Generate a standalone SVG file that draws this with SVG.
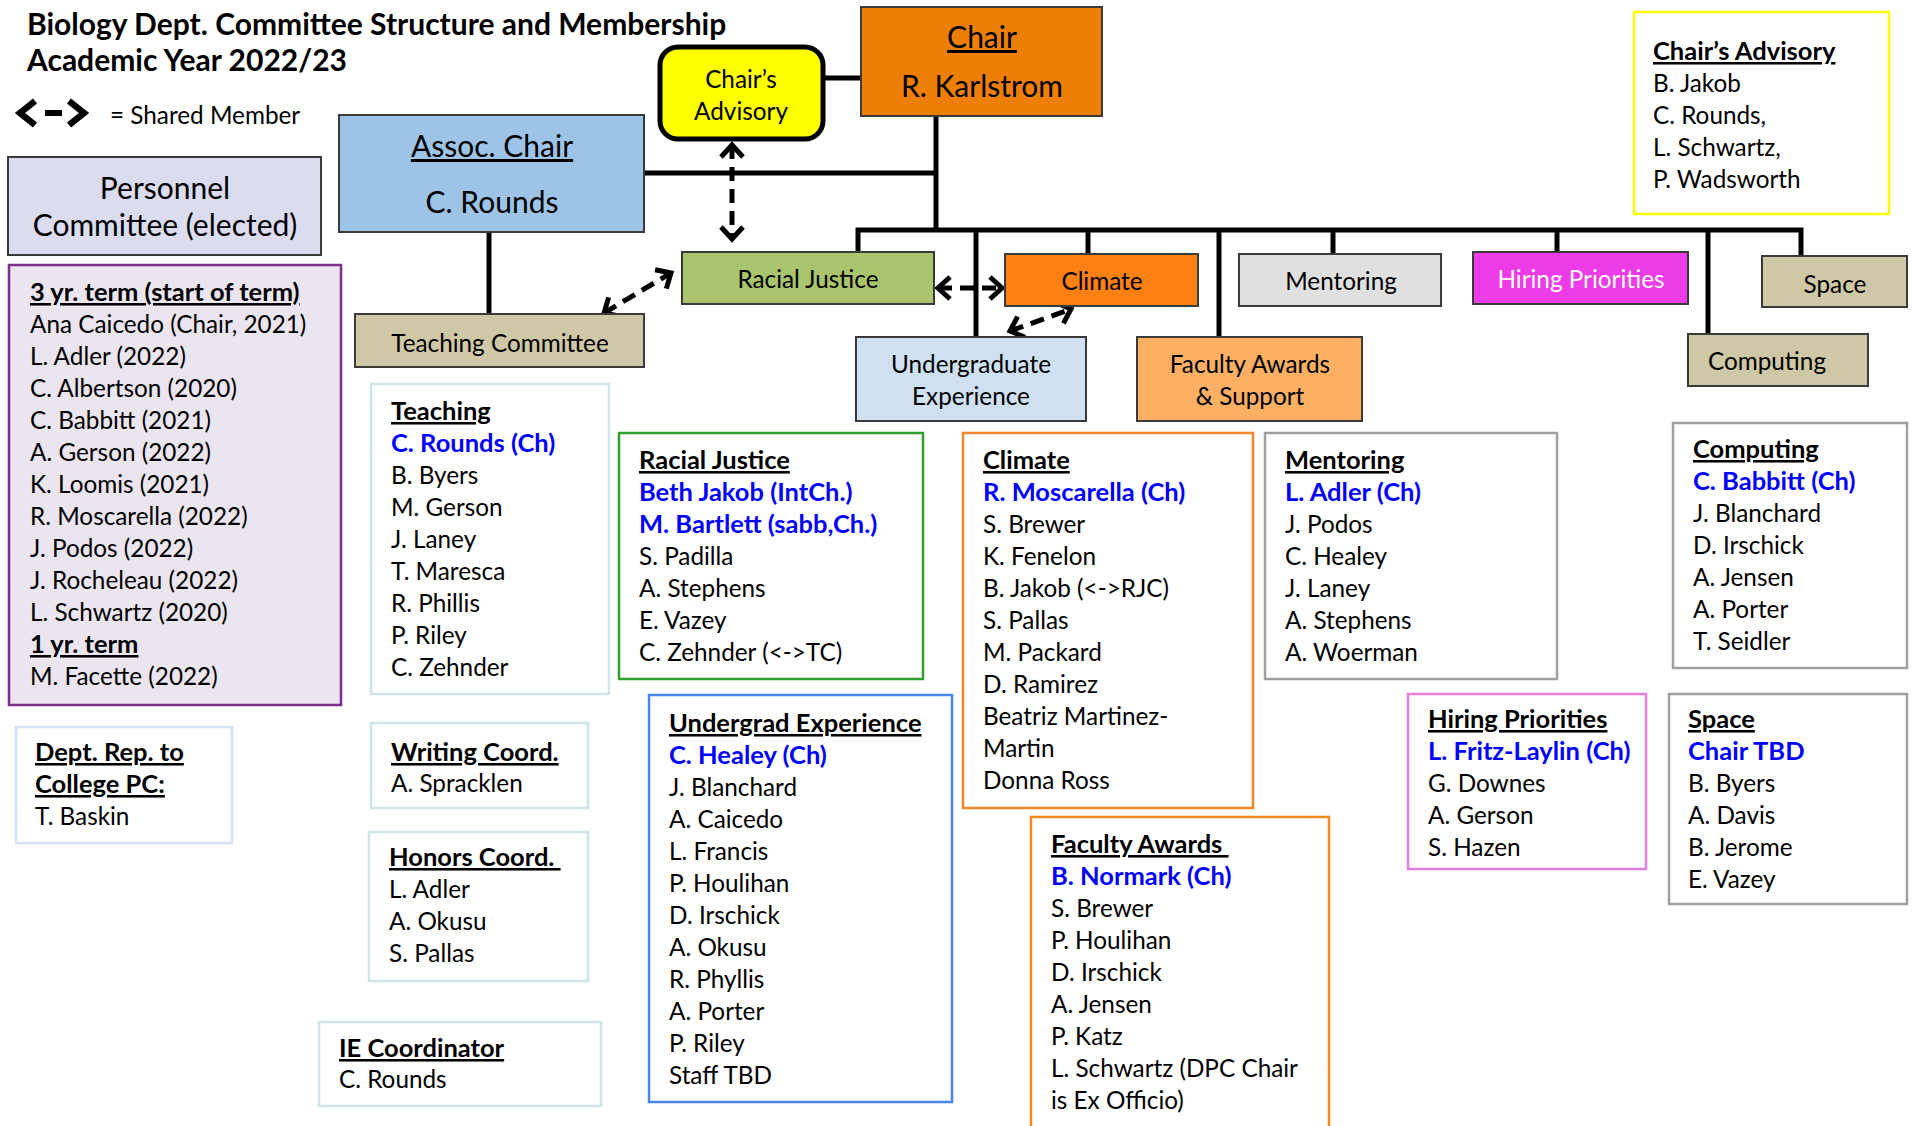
<svg xmlns="http://www.w3.org/2000/svg" width="1913" height="1126" viewBox="0 0 1913 1126">
<defs>
<style>
text{font-family:Lato,'Open Sans','Liberation Sans',sans-serif;font-size:24.3px;fill:#000}
.b{font-weight:bold;font-size:25.5px}
.u{text-decoration:underline}
.chn{fill:#0000ff;font-weight:bold;font-size:25.5px}
.big{font-size:30px}
.ttl{font-weight:bold;font-size:30px}
.mid{text-anchor:middle}
.node{stroke:#3a3a3a;stroke-width:2}
.conn{stroke:#000;stroke-width:5;fill:none}
.dash{stroke:#000;stroke-width:5;stroke-dasharray:14 8;fill:none;marker-start:url(#ah);marker-end:url(#ah)}
.lb{fill:#fff;stroke-width:2.5}
</style>
<marker id="ah" markerUnits="userSpaceOnUse" markerWidth="30" markerHeight="30" viewBox="0 0 30 30" refX="21" refY="15" orient="auto-start-reverse">
<path d="M9,4 L21,15 L9,26" fill="none" stroke="#000" stroke-width="5" stroke-dasharray="none"/>
</marker>
<marker id="ahl" markerUnits="userSpaceOnUse" markerWidth="34" markerHeight="34" viewBox="0 0 34 34" refX="23" refY="17" orient="auto-start-reverse">
<path d="M7,5 L22,17 L7,29" fill="none" stroke="#000" stroke-width="6.5" stroke-dasharray="none"/>
</marker>
</defs>
<rect width="1913" height="1126" fill="#fff"/>

<g id="title">
<text class="ttl" x="27" y="35">Biology Dept. Committee Structure and Membership</text>
<text class="ttl" x="27" y="71">Academic Year 2022/23</text>
</g>

<g id="legend">
<line x1="19" y1="113" x2="85" y2="113" stroke="#000" stroke-width="6" stroke-dasharray="0 26 17 100" marker-start="url(#ahl)" marker-end="url(#ahl)"/>
<text x="110" y="124">= Shared Member</text>
</g>

<g id="connectors">
<path class="conn" d="M823,78 H861"/>
<path class="conn" d="M936,116 V230"/>
<path class="conn" d="M644,173 H936"/>
<path class="conn" d="M489,232 V314"/>
<path class="conn" d="M858,252 V230 H1801 V256"/>
<path class="conn" d="M976,230 V337"/>
<path class="conn" d="M1088,230 V254"/>
<path class="conn" d="M1219,230 V337"/>
<path class="conn" d="M1333,230 V254"/>
<path class="conn" d="M1557,230 V252"/>
<path class="conn" d="M1708,230 V334"/>
<line class="dash" x1="732" y1="145" x2="732" y2="239"/>
<line class="dash" x1="604" y1="313" x2="671" y2="273"/>
<line class="dash" x1="938" y1="288" x2="1002" y2="288"/>
<line class="dash" x1="1010" y1="331" x2="1071" y2="309"/>
</g>

<g id="node-personnel">
<rect class="node" x="8" y="157" width="313" height="98" fill="#dcdcf0"/>
<text class="mid big" x="165" y="199">Personnel</text>
<text class="mid big" x="165" y="236">Committee (elected)</text>
</g>

<g id="node-personnel-members">
<rect x="9" y="265" width="332" height="440" fill="#ebe5f0" stroke="#7e2f8e" stroke-width="2.5"/>
<text class="b u" x="30" y="301">3 yr. term (start of term)</text>
<text x="30" y="333">Ana Caicedo (Chair, 2021)</text>
<text x="30" y="365">L. Adler (2022)</text>
<text x="30" y="397">C. Albertson (2020)</text>
<text x="30" y="429">C. Babbitt (2021)</text>
<text x="30" y="461">A. Gerson (2022)</text>
<text x="30" y="493">K. Loomis (2021)</text>
<text x="30" y="525">R. Moscarella (2022)</text>
<text x="30" y="557">J. Podos (2022)</text>
<text x="30" y="589">J. Rocheleau (2022)</text>
<text x="30" y="621">L. Schwartz (2020)</text>
<text class="b u" x="30" y="653">1 yr. term</text>
<text x="30" y="685">M. Facette (2022)</text>
</g>

<g id="node-assoc-chair">
<rect class="node" x="339" y="115" width="305" height="117" fill="#9dc3e6"/>
<text class="mid big u" x="492" y="157">Assoc. Chair</text>
<text class="mid big" x="492" y="213">C. Rounds</text>
</g>

<g id="node-teaching">
<rect class="node" x="355" y="314" width="289" height="53" fill="#cfc8a6"/>
<text class="mid" x="500" y="352">Teaching Committee</text>
</g>

<g id="node-chairs-advisory">
<rect x="660" y="47" width="163" height="92" rx="18" fill="#ffff00" stroke="#000" stroke-width="5"/>
<text class="mid" x="741" y="88">Chair’s</text>
<text class="mid" x="741" y="120">Advisory</text>
</g>

<g id="node-chair">
<rect class="node" x="861" y="7" width="241" height="109" fill="#ed7e06"/>
<text class="mid big u" x="982" y="48">Chair</text>
<text class="mid big" x="982" y="97">R. Karlstrom</text>
</g>

<g id="node-racial-justice">
<rect class="node" x="682" y="252" width="252" height="52" fill="#a9c46c"/>
<text class="mid" x="808" y="288">Racial Justice</text>
</g>

<g id="node-climate">
<rect class="node" x="1005" y="254" width="193" height="52" fill="#fd8012"/>
<text class="mid" x="1102" y="290">Climate</text>
</g>

<g id="node-undergrad">
<rect class="node" x="856" y="337" width="230" height="84" fill="#cfe0f3"/>
<text class="mid" x="971" y="373">Undergraduate</text>
<text class="mid" x="971" y="405">Experience</text>
</g>

<g id="node-faculty-awards">
<rect class="node" x="1137" y="337" width="225" height="84" fill="#fdb064"/>
<text class="mid" x="1250" y="373">Faculty Awards</text>
<text class="mid" x="1250" y="405">&amp; Support</text>
</g>

<g id="node-mentoring">
<rect class="node" x="1239" y="254" width="202" height="52" fill="#e0e0e0"/>
<text class="mid" x="1341" y="290">Mentoring</text>
</g>

<g id="node-hiring">
<rect class="node" x="1473" y="252" width="215" height="52" fill="#ee3be8"/>
<text class="mid" x="1581" y="288" style="fill:#fff">Hiring Priorities</text>
</g>

<g id="node-computing">
<rect class="node" x="1688" y="334" width="180" height="52" fill="#cfc8a6"/>
<text class="mid" x="1767" y="370">Computing</text>
</g>

<g id="node-space">
<rect class="node" x="1762" y="256" width="145" height="51" fill="#cfc8a6"/>
<text class="mid" x="1835" y="293">Space</text>
</g>

<g id="list-chairs-advisory">
<rect class="lb" x="1634" y="12" width="255" height="202" stroke="#ffff00" stroke-width="3"/>
<text class="b u" x="1653" y="60">Chair’s Advisory</text>
<text x="1653" y="92">B. Jakob</text>
<text x="1653" y="124">C. Rounds,</text>
<text x="1653" y="156">L. Schwartz,</text>
<text x="1653" y="188">P. Wadsworth</text>
</g>

<g id="list-teaching">
<rect class="lb" x="371" y="384" width="238" height="310" stroke="#cfe5ea"/>
<text class="b u" x="391" y="420">Teaching</text>
<text class="chn" x="391" y="452">C. Rounds (Ch)</text>
<text x="391" y="484">B. Byers</text>
<text x="391" y="516">M. Gerson</text>
<text x="391" y="548">J. Laney</text>
<text x="391" y="580">T. Maresca</text>
<text x="391" y="612">R. Phillis</text>
<text x="391" y="644">P. Riley</text>
<text x="391" y="676">C. Zehnder</text>
</g>

<g id="list-dept-rep">
<rect class="lb" x="16" y="727" width="216" height="116" stroke="#d4e3f3"/>
<text class="b u" x="35" y="761">Dept. Rep. to</text>
<text class="b u" x="35" y="793">College PC:</text>
<text x="35" y="825">T. Baskin</text>
</g>

<g id="list-writing">
<rect class="lb" x="371" y="723" width="217" height="85" stroke="#cfe5ea"/>
<text class="b u" x="391" y="761">Writing Coord.</text>
<text x="391" y="792">A. Spracklen</text>
</g>

<g id="list-honors">
<rect class="lb" x="369" y="832" width="219" height="149" stroke="#cfe5ea"/>
<text class="b u" x="389" y="866" xml:space="preserve">Honors Coord. </text>
<text x="389" y="898">L. Adler</text>
<text x="389" y="930">A. Okusu</text>
<text x="389" y="962">S. Pallas</text>
</g>

<g id="list-ie">
<rect class="lb" x="319" y="1022" width="282" height="84" stroke="#cfe5ea"/>
<text class="b u" x="339" y="1057">IE Coordinator</text>
<text x="339" y="1088">C. Rounds</text>
</g>

<g id="list-racial-justice">
<rect class="lb" x="619" y="433" width="304" height="246" stroke="#2e9e2e"/>
<text class="b u" x="639" y="469">Racial Justice</text>
<text class="chn" x="639" y="501">Beth Jakob (IntCh.)</text>
<text class="chn" x="639" y="533">M. Bartlett (sabb,Ch.)</text>
<text x="639" y="565">S. Padilla</text>
<text x="639" y="597">A. Stephens</text>
<text x="639" y="629">E. Vazey</text>
<text x="639" y="661">C. Zehnder (&lt;-&gt;TC)</text>
</g>

<g id="list-undergrad">
<rect class="lb" x="649" y="695" width="303" height="407" stroke="#4a86e8"/>
<text class="b u" x="669" y="732">Undergrad Experience</text>
<text class="chn" x="669" y="764">C. Healey (Ch)</text>
<text x="669" y="796">J. Blanchard</text>
<text x="669" y="828">A. Caicedo</text>
<text x="669" y="860">L. Francis</text>
<text x="669" y="892">P. Houlihan</text>
<text x="669" y="924">D. Irschick</text>
<text x="669" y="956">A. Okusu</text>
<text x="669" y="988">R. Phyllis</text>
<text x="669" y="1020">A. Porter</text>
<text x="669" y="1052">P. Riley</text>
<text x="669" y="1084">Staff TBD</text>
</g>

<g id="list-climate">
<rect class="lb" x="963" y="433" width="290" height="375" stroke="#f4862a"/>
<text class="b u" x="983" y="469">Climate</text>
<text class="chn" x="983" y="501">R. Moscarella (Ch)</text>
<text x="983" y="533">S. Brewer</text>
<text x="983" y="565">K. Fenelon</text>
<text x="983" y="597">B. Jakob (&lt;-&gt;RJC)</text>
<text x="983" y="629">S. Pallas</text>
<text x="983" y="661">M. Packard</text>
<text x="983" y="693">D. Ramirez</text>
<text x="983" y="725">Beatriz Martinez-</text>
<text x="983" y="757">Martin</text>
<text x="983" y="789">Donna Ross</text>
</g>

<g id="list-faculty-awards">
<rect class="lb" x="1031" y="817" width="298" height="320" stroke="#f08a1c"/>
<text class="b u" x="1051" y="853" xml:space="preserve">Faculty Awards </text>
<text class="chn" x="1051" y="885">B. Normark (Ch)</text>
<text x="1051" y="917">S. Brewer</text>
<text x="1051" y="949">P. Houlihan</text>
<text x="1051" y="981">D. Irschick</text>
<text x="1051" y="1013">A. Jensen</text>
<text x="1051" y="1045">P. Katz</text>
<text x="1051" y="1077">L. Schwartz (DPC Chair</text>
<text x="1051" y="1109">is Ex Officio)</text>
</g>

<g id="list-mentoring">
<rect class="lb" x="1265" y="433" width="292" height="246" stroke="#a0a0a0"/>
<text class="b u" x="1285" y="469">Mentoring</text>
<text class="chn" x="1285" y="501">L. Adler (Ch)</text>
<text x="1285" y="533">J. Podos</text>
<text x="1285" y="565">C. Healey</text>
<text x="1285" y="597">J. Laney</text>
<text x="1285" y="629">A. Stephens</text>
<text x="1285" y="661">A. Woerman</text>
</g>

<g id="list-hiring">
<rect class="lb" x="1408" y="694" width="238" height="175" stroke="#e57ee0"/>
<text class="b u" x="1428" y="728">Hiring Priorities</text>
<text class="chn" x="1428" y="760">L. Fritz-Laylin (Ch)</text>
<text x="1428" y="792">G. Downes</text>
<text x="1428" y="824">A. Gerson</text>
<text x="1428" y="856">S. Hazen</text>
</g>

<g id="list-computing">
<rect class="lb" x="1673" y="423" width="234" height="245" stroke="#a0a0a0"/>
<text class="b u" x="1693" y="458">Computing</text>
<text class="chn" x="1693" y="490">C. Babbitt (Ch)</text>
<text x="1693" y="522">J. Blanchard</text>
<text x="1693" y="554">D. Irschick</text>
<text x="1693" y="586">A. Jensen</text>
<text x="1693" y="618">A. Porter</text>
<text x="1693" y="650">T. Seidler</text>
</g>

<g id="list-space">
<rect class="lb" x="1669" y="694" width="238" height="210" stroke="#a0a0a0"/>
<text class="b u" x="1688" y="728">Space</text>
<text class="chn" x="1688" y="760">Chair TBD</text>
<text x="1688" y="792">B. Byers</text>
<text x="1688" y="824">A. Davis</text>
<text x="1688" y="856">B. Jerome</text>
<text x="1688" y="888">E. Vazey</text>
</g>
</svg>
